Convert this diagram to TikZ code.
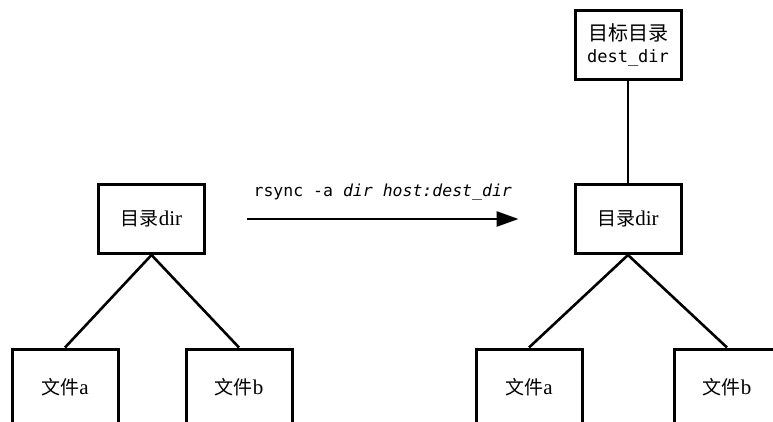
\documentclass[tikz,border=0pt]{standalone}
\usepackage{fontspec}
\setmainfont{Liberation Serif}
\setmonofont{DejaVu Sans Mono}
\newfontfamily\cjk{Noto Sans CJK SC}
\usetikzlibrary{positioning,arrows.meta}

\begin{document}
\begin{tikzpicture}[x=1pt, y=-1pt,
  every node/.style={font=\fontsize{21}{24}\selectfont},
  box/.style={rectangle, draw=black, line width=3pt, minimum width=106pt,
              minimum height=69pt, inner sep=0pt, align=center},
  filebox/.style={box, minimum height=76pt},
  link/.style={line width=2.6pt, black},
  arr/.style={-{Triangle[length=22pt,width=15pt]}, line width=2.8pt, black},
  cmd/.style={font=\ttfamily\fontsize{16.5}{20}\selectfont},
]
\useasboundingbox (0,0) rectangle (773,422);

% source tree (left)
\node[box] (ldir) at (151.5,219) {{\cjk\fontsize{19}{24}\selectfont 目录}dir};
\node[filebox] (lfa) at (65,387) {{\cjk\fontsize{19}{24}\selectfont 文件}a};
\node[filebox] (lfb) at (239,387) {{\cjk\fontsize{19}{24}\selectfont 文件}b};

% destination tree (right)
\node[box] (dest) at (628,45)
  {{\cjk\fontsize{20}{30}\selectfont 目标目录}\\[-2pt]{\ttfamily\fontsize{17}{20}\selectfont dest\_dir}};
\node[box] (rdir) at (628,219) {{\cjk\fontsize{19}{24}\selectfont 目录}dir};
\node[filebox] (rfa) at (529,387) {{\cjk\fontsize{19}{24}\selectfont 文件}a};
\node[filebox] (rfb) at (727,387) {{\cjk\fontsize{19}{24}\selectfont 文件}b};

% tree links
\draw[link] (ldir.south) -- (lfa.north);
\draw[link] (ldir.south) -- (lfb.north);
\draw[link] (dest.south) -- (rdir.north);
\draw[link] (rdir.south) -- (rfa.north);
\draw[link] (rdir.south) -- (rfb.north);

% copy arrow
\draw[arr] ([xshift=41pt]ldir.east) -- ([xshift=-55pt]rdir.west)
  node[midway, above=14pt, cmd] (cmdlbl) {rsync -a \textit{dir} \textit{host:dest\_dir}};

\end{tikzpicture}
\end{document}
